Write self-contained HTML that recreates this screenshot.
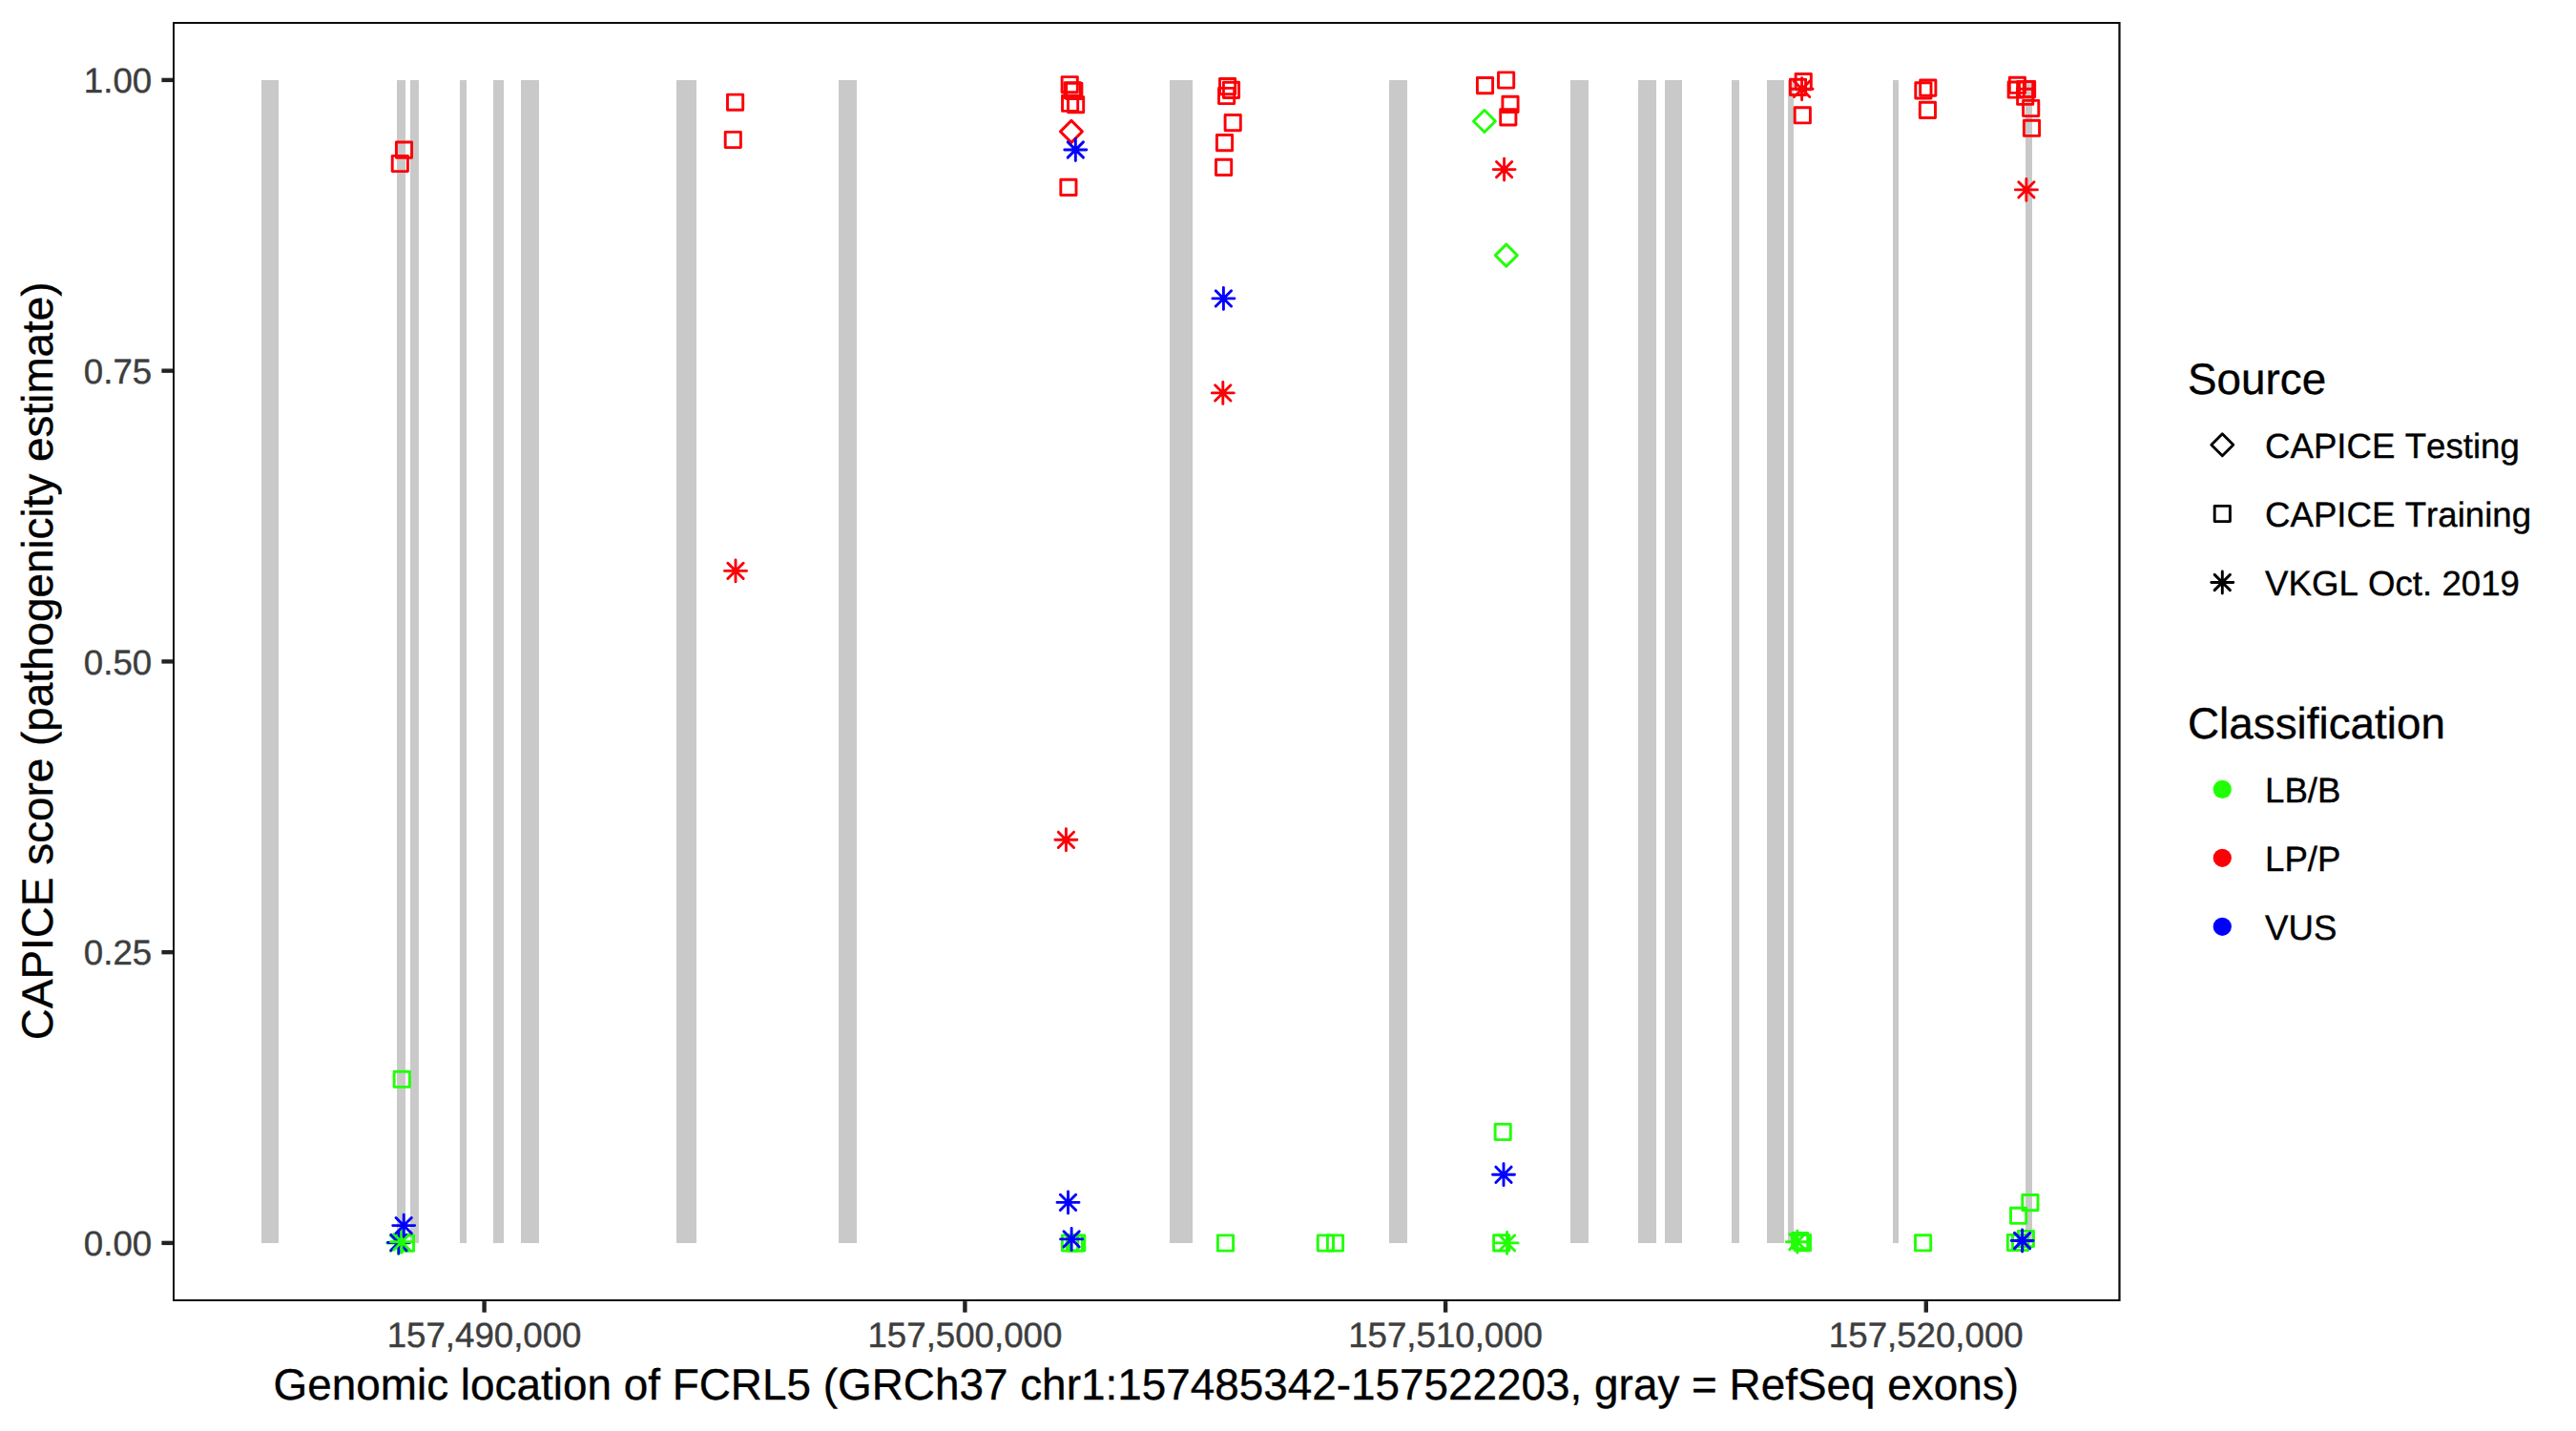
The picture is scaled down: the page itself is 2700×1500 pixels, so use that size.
<!DOCTYPE html>
<html lang="en"><head><meta charset="utf-8"><title>CAPICE score FCRL5</title>
<style>
html,body{margin:0;padding:0;background:#fff;}
body{width:2700px;height:1500px;overflow:hidden;}
svg{display:block;}
text{font-family:"Liberation Sans",Arial,Helvetica,sans-serif;font-kerning:none;font-variant-ligatures:none;text-rendering:geometricPrecision;}
.ax{font-size:36.67px;fill:#3d3d3d;stroke:#3d3d3d;stroke-width:.4px;}
.ti{font-size:45.83px;fill:#000;stroke:#000;stroke-width:.35px;}
.lg{font-size:36.67px;fill:#000;stroke:#000;stroke-width:.35px;}
.pt{fill:none;stroke-width:2.9;stroke-linecap:round;stroke-linejoin:round;}
</style></head><body>
<svg width="2700" height="1500" viewBox="0 0 2700 1500">
<rect width="2700" height="1500" fill="#fff"/>
<g fill="#C9C9C9">
<rect x="274" y="84" width="18" height="1219"/>
<rect x="416" y="84" width="9" height="1219"/>
<rect x="430" y="84" width="9" height="1219"/>
<rect x="482" y="84" width="7" height="1219"/>
<rect x="517" y="84" width="11" height="1219"/>
<rect x="546" y="84" width="19" height="1219"/>
<rect x="709" y="84" width="21" height="1219"/>
<rect x="879" y="84" width="19" height="1219"/>
<rect x="1226" y="84" width="24" height="1219"/>
<rect x="1456" y="84" width="19" height="1219"/>
<rect x="1646" y="84" width="19" height="1219"/>
<rect x="1717" y="84" width="19" height="1219"/>
<rect x="1745" y="84" width="18" height="1219"/>
<rect x="1815" y="84" width="8" height="1219"/>
<rect x="1852" y="84" width="18" height="1219"/>
<rect x="1874" y="84" width="6" height="1219"/>
<rect x="1984" y="84" width="6" height="1219"/>
<rect x="2123" y="84" width="7" height="1219"/>
</g>
<g class="pt">
<rect x="415.40" y="149.00" width="16.2" height="16.2" stroke="#FB0007"/>
<rect x="411.20" y="163.40" width="16.2" height="16.2" stroke="#FB0007"/>
<rect x="762.50" y="99.10" width="16.2" height="16.2" stroke="#FB0007"/>
<rect x="760.20" y="138.40" width="16.2" height="16.2" stroke="#FB0007"/>
<path d="M759.50 598.40H782.50M771.00 586.90V609.90M762.86 590.26L779.14 606.54M762.86 606.54L779.14 590.26" stroke="#FB0007"/>
<rect x="1113.10" y="80.60" width="16.2" height="16.2" stroke="#FB0007"/>
<rect x="1116.00" y="86.60" width="16.2" height="16.2" stroke="#FB0007"/>
<rect x="1117.70" y="87.30" width="16.2" height="16.2" stroke="#FB0007"/>
<rect x="1113.50" y="100.20" width="16.2" height="16.2" stroke="#FB0007"/>
<rect x="1119.50" y="101.60" width="16.2" height="16.2" stroke="#FB0007"/>
<path d="M1111.40 137.90L1122.90 126.40L1134.40 137.90L1122.90 149.40Z" stroke="#FB0007"/>
<path d="M1115.80 157.00H1138.80M1127.30 145.50V168.50M1119.16 148.86L1135.44 165.14M1119.16 165.14L1135.44 148.86" stroke="#0000FF"/>
<rect x="1111.80" y="188.30" width="16.2" height="16.2" stroke="#FB0007"/>
<path d="M1105.90 880.30H1128.90M1117.40 868.80V891.80M1109.26 872.16L1125.54 888.44M1109.26 888.44L1125.54 872.16" stroke="#FB0007"/>
<rect x="1278.50" y="82.50" width="16.2" height="16.2" stroke="#FB0007"/>
<rect x="1277.50" y="92.40" width="16.2" height="16.2" stroke="#FB0007"/>
<rect x="1282.40" y="86.30" width="16.2" height="16.2" stroke="#FB0007"/>
<rect x="1284.10" y="120.50" width="16.2" height="16.2" stroke="#FB0007"/>
<rect x="1275.40" y="141.50" width="16.2" height="16.2" stroke="#FB0007"/>
<rect x="1274.50" y="167.30" width="16.2" height="16.2" stroke="#FB0007"/>
<path d="M1270.90 312.90H1293.90M1282.40 301.40V324.40M1274.26 304.76L1290.54 321.04M1274.26 321.04L1290.54 304.76" stroke="#0000FF"/>
<path d="M1270.30 411.90H1293.30M1281.80 400.40V423.40M1273.66 403.76L1289.94 420.04M1273.66 420.04L1289.94 403.76" stroke="#FB0007"/>
<rect x="1548.40" y="81.50" width="16.2" height="16.2" stroke="#FB0007"/>
<rect x="1570.50" y="75.90" width="16.2" height="16.2" stroke="#FB0007"/>
<rect x="1574.90" y="101.30" width="16.2" height="16.2" stroke="#FB0007"/>
<rect x="1572.70" y="114.80" width="16.2" height="16.2" stroke="#FB0007"/>
<path d="M1544.40 127.00L1555.90 115.50L1567.40 127.00L1555.90 138.50Z" stroke="#21FF06"/>
<path d="M1565.10 177.60H1588.10M1576.60 166.10V189.10M1568.46 169.46L1584.74 185.74M1568.46 185.74L1584.74 169.46" stroke="#FB0007"/>
<path d="M1567.30 267.60L1578.80 256.10L1590.30 267.60L1578.80 279.10Z" stroke="#21FF06"/>
<rect x="1882.10" y="77.50" width="16.2" height="16.2" stroke="#FB0007"/>
<rect x="1876.40" y="83.30" width="16.2" height="16.2" stroke="#FB0007"/>
<path d="M1877.10 93.30H1900.10M1888.60 81.80V104.80M1880.46 85.16L1896.74 101.44M1880.46 101.44L1896.74 85.16" stroke="#FB0007"/>
<rect x="1881.20" y="112.70" width="16.2" height="16.2" stroke="#FB0007"/>
<rect x="2012.70" y="84.00" width="16.2" height="16.2" stroke="#FB0007"/>
<rect x="2007.80" y="86.80" width="16.2" height="16.2" stroke="#FB0007"/>
<rect x="2012.30" y="107.30" width="16.2" height="16.2" stroke="#FB0007"/>
<rect x="2106.30" y="81.20" width="16.2" height="16.2" stroke="#FB0007"/>
<rect x="2105.10" y="85.95" width="16.2" height="16.2" stroke="#FB0007"/>
<rect x="2116.50" y="85.50" width="16.2" height="16.2" stroke="#FB0007"/>
<rect x="2114.60" y="85.40" width="16.2" height="16.2" stroke="#FB0007"/>
<rect x="2114.60" y="93.20" width="16.2" height="16.2" stroke="#FB0007"/>
<rect x="2120.60" y="105.40" width="16.2" height="16.2" stroke="#FB0007"/>
<rect x="2121.40" y="126.20" width="16.2" height="16.2" stroke="#FB0007"/>
<path d="M2112.40 198.90H2135.40M2123.90 187.40V210.40M2115.76 190.76L2132.04 207.04M2115.76 207.04L2132.04 190.76" stroke="#FB0007"/>
<rect x="413.15" y="1123.20" width="16.2" height="16.2" stroke="#21FF06"/>
<rect x="417.40" y="1295.00" width="16.2" height="16.2" stroke="#21FF06"/>
<path d="M405.80 1303.00H428.80M417.30 1291.50V1314.50M409.16 1294.86L425.44 1311.14M409.16 1311.14L425.44 1294.86" stroke="#21FF06"/>
<path d="M406.50 1302.50H429.50M418.00 1291.00V1314.00M409.86 1294.36L426.14 1310.64M409.86 1310.64L426.14 1294.36" stroke="#0000FF"/>
<path d="M409.50 1301.80H432.50M421.00 1290.30V1313.30M412.86 1293.66L429.14 1309.94M412.86 1309.94L429.14 1293.66" stroke="#21FF06"/>
<path d="M411.70 1284.60H434.70M423.20 1273.10V1296.10M415.06 1276.46L431.34 1292.74M415.06 1292.74L431.34 1276.46" stroke="#0000FF"/>
<rect x="1113.40" y="1294.90" width="16.2" height="16.2" stroke="#21FF06"/>
<rect x="1118.30" y="1294.90" width="16.2" height="16.2" stroke="#21FF06"/>
<rect x="1120.60" y="1294.90" width="16.2" height="16.2" stroke="#21FF06"/>
<path d="M1108.00 1260.40H1131.00M1119.50 1248.90V1271.90M1111.36 1252.26L1127.64 1268.54M1111.36 1268.54L1127.64 1252.26" stroke="#0000FF"/>
<path d="M1111.60 1298.90H1134.60M1123.10 1287.40V1310.40M1114.96 1290.76L1131.24 1307.04M1114.96 1307.04L1131.24 1290.76" stroke="#0000FF"/>
<rect x="1276.40" y="1294.90" width="16.2" height="16.2" stroke="#21FF06"/>
<rect x="1381.30" y="1294.90" width="16.2" height="16.2" stroke="#21FF06"/>
<rect x="1391.40" y="1294.90" width="16.2" height="16.2" stroke="#21FF06"/>
<rect x="1567.10" y="1178.40" width="16.2" height="16.2" stroke="#21FF06"/>
<path d="M1564.50 1231.30H1587.50M1576.00 1219.80V1242.80M1567.86 1223.16L1584.14 1239.44M1567.86 1239.44L1584.14 1223.16" stroke="#0000FF"/>
<rect x="1565.60" y="1294.80" width="16.2" height="16.2" stroke="#21FF06"/>
<path d="M1568.10 1302.90H1591.10M1579.60 1291.40V1314.40M1571.46 1294.76L1587.74 1311.04M1571.46 1311.04L1587.74 1294.76" stroke="#21FF06"/>
<rect x="1878.60" y="1292.40" width="16.2" height="16.2" stroke="#21FF06"/>
<rect x="1881.30" y="1294.50" width="16.2" height="16.2" stroke="#21FF06"/>
<path d="M1872.35 1301.70H1895.35M1883.85 1290.20V1313.20M1875.71 1293.56L1891.99 1309.84M1875.71 1309.84L1891.99 1293.56" stroke="#21FF06"/>
<rect x="2007.50" y="1294.70" width="16.2" height="16.2" stroke="#21FF06"/>
<rect x="2119.80" y="1252.50" width="16.2" height="16.2" stroke="#21FF06"/>
<rect x="2107.50" y="1266.20" width="16.2" height="16.2" stroke="#21FF06"/>
<rect x="2104.30" y="1294.40" width="16.2" height="16.2" stroke="#21FF06"/>
<rect x="2109.50" y="1294.40" width="16.2" height="16.2" stroke="#21FF06"/>
<rect x="2115.30" y="1290.40" width="16.2" height="16.2" stroke="#21FF06"/>
<path d="M2108.10 1300.50H2131.10M2119.60 1289.00V1312.00M2111.46 1292.36L2127.74 1308.64M2111.46 1308.64L2127.74 1292.36" stroke="#0000FF"/>
</g>
<path fill="#0c0c0c" fill-rule="evenodd" d="M181 22.9H2222.6V1364.1H181ZM183 24.95H2220.35V1362H183Z"/>
<g stroke="#232323" stroke-width="4.4">
<line x1="169.40" x2="181.0" y1="1302.90" y2="1302.90"/>
<line x1="169.40" x2="181.0" y1="998.15" y2="998.15"/>
<line x1="169.40" x2="181.0" y1="693.40" y2="693.40"/>
<line x1="169.40" x2="181.0" y1="388.65" y2="388.65"/>
<line x1="169.40" x2="181.0" y1="83.90" y2="83.90"/>
<line x1="507.6" x2="507.6" y1="1364.1" y2="1375.70"/>
<line x1="1011.4" x2="1011.4" y1="1364.1" y2="1375.70"/>
<line x1="1515.1" x2="1515.1" y1="1364.1" y2="1375.70"/>
<line x1="2018.8" x2="2018.8" y1="1364.1" y2="1375.70"/>
</g>
<text class="ax" x="159.2" y="1316.20" text-anchor="end">0.00</text>
<text class="ax" x="159.2" y="1011.45" text-anchor="end">0.25</text>
<text class="ax" x="159.2" y="706.70" text-anchor="end">0.50</text>
<text class="ax" x="159.2" y="401.95" text-anchor="end">0.75</text>
<text class="ax" x="159.2" y="97.20" text-anchor="end">1.00</text>
<text class="ax" x="507.6" y="1412" text-anchor="middle">157,490,000</text>
<text class="ax" x="1011.4" y="1412" text-anchor="middle">157,500,000</text>
<text class="ax" x="1515.1" y="1412" text-anchor="middle">157,510,000</text>
<text class="ax" x="2018.8" y="1412" text-anchor="middle">157,520,000</text>
<text class="ti" x="1201.3" y="1467" text-anchor="middle" letter-spacing="0.02">Genomic location of FCRL5 (GRCh37 chr1:157485342-157522203, gray = RefSeq exons)</text>
<text class="ti" transform="translate(54.9,692.8) rotate(-90)" text-anchor="middle">CAPICE score (pathogenicity estimate)</text>
<text class="ti" x="2293.0" y="412.7">Source</text>
<g class="pt">
<path d="M2317.80 466.30L2329.30 454.80L2340.80 466.30L2329.30 477.80Z" stroke="#000"/>
<rect x="2321.20" y="530.40" width="16.2" height="16.2" stroke="#000"/>
<path d="M2317.80 610.50H2340.80M2329.30 599.00V622.00M2321.16 602.36L2337.44 618.64M2321.16 618.64L2337.44 602.36" stroke="#000"/>
</g>
<text class="lg" x="2374.0" y="479.7">CAPICE Testing</text>
<text class="lg" x="2374.0" y="551.5">CAPICE Training</text>
<text class="lg" x="2374.0" y="623.8">VKGL Oct. 2019</text>
<text class="ti" x="2293.0" y="774.2">Classification</text>
<circle cx="2329.3" cy="827.4" r="9.6" fill="#21FF06"/>
<text class="lg" x="2374.0" y="840.8">LB/B</text>
<circle cx="2329.3" cy="899.3" r="9.6" fill="#FB0007"/>
<text class="lg" x="2374.0" y="912.7">LP/P</text>
<circle cx="2329.3" cy="971.3" r="9.6" fill="#0000FF"/>
<text class="lg" x="2374.0" y="984.7">VUS</text>
</svg></body></html>
